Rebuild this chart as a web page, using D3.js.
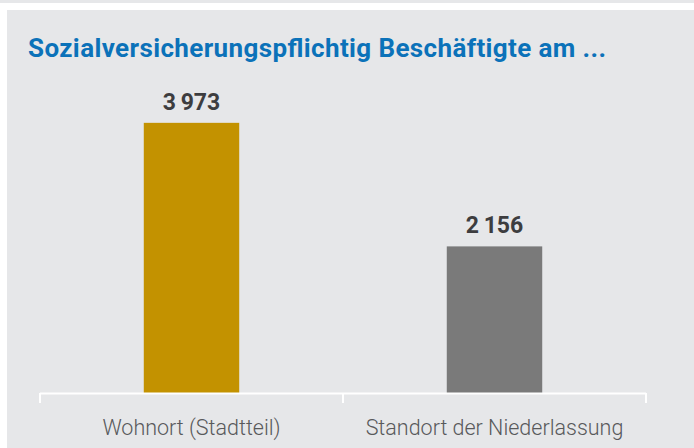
<!DOCTYPE html>
<html>
<head>
<meta charset="utf-8">
<style>
  body { margin: 0; background: #ffffff; }
  text { font-family: Roboto, "Noto Sans", sans-serif; }
  .title { font-weight: bold; fill: #0b72b9; }
  .value { font-weight: bold; fill: #3d3d3f; }
  .cat { fill: #58595b; font-weight: 300; }
</style>
</head>
<body>
<script src="https://d3js.org/d3.v7.min.js"></script>
<script>
var categories = ["Wohnort (Stadtteil)", "Standort der Niederlassung"];
var values = [3973, 2156];
var barColors = ["#c39200", "#7a7a7a"];
var titleText = "Sozialversicherungspflichtig Beschäftigte am ...";

var W = 694, H = 448;

var svg = d3.select("body").append("svg")
    .attr("width", W)
    .attr("height", H);

// top strip + panel
svg.append("rect").attr("x", 0).attr("y", 0).attr("width", W).attr("height", 3).attr("fill", "#e6e7e9");
svg.append("rect").attr("x", 7).attr("y", 10).attr("width", W - 7).attr("height", H - 10).attr("fill", "#e6e7e9");

var x = d3.scaleBand()
    .domain(categories)
    .range([40, 646])
    .padding(0);

var y = d3.scaleLinear()
    .domain([0, 4000])
    .range([393, 121]);

var fmt = d3.formatLocale({ decimal: ",", thousands: "\u2009", grouping: [3], currency: ["", " €"] }).format(",d");

var barW = x.bandwidth() * 0.315;

svg.selectAll(".bar")
    .data(values)
    .enter().append("rect")
    .attr("class", "bar")
    .attr("x", function(d, i) { return x(categories[i]) + x.bandwidth() / 2 - barW / 2; })
    .attr("y", function(d) { return y(d); })
    .attr("width", barW)
    .attr("height", function(d) { return y(0) - y(d); })
    .attr("fill", function(d, i) { return barColors[i]; });

svg.selectAll(".value")
    .data(values)
    .enter().append("text")
    .attr("class", "value")
    .attr("x", function(d, i) { return x(categories[i]) + x.bandwidth() / 2; })
    .attr("y", function(d) { return y(d) - 13; })
    .attr("text-anchor", "middle")
    .style("font-size", "23px")
    .text(function(d) { return fmt(d); });

// axis line with ticks at band edges
var edges = [40].concat(categories.map(function(c) { return x(c) + x.bandwidth(); }));
svg.append("line")
    .attr("x1", 40).attr("x2", 646)
    .attr("y1", y(0) + 0.5).attr("y2", y(0) + 0.5)
    .attr("stroke", "#ffffff").attr("stroke-width", 2);
svg.selectAll(".edge")
    .data(edges)
    .enter().append("line")
    .attr("x1", function(d) { return d; }).attr("x2", function(d) { return d; })
    .attr("y1", y(0)).attr("y2", y(0) + 10)
    .attr("stroke", "#ffffff").attr("stroke-width", 2);

svg.selectAll(".cat")
    .data(categories)
    .enter().append("text")
    .attr("class", "cat")
    .attr("x", function(d) { return x(d) + x.bandwidth() / 2; })
    .attr("y", 435)
    .attr("text-anchor", "middle")
    .style("font-size", "21.5px")
    .text(function(d) { return d; });

svg.append("text")
    .attr("class", "title")
    .attr("x", 28)
    .attr("y", 57)
    .attr("textLength", 578)
    .attr("lengthAdjust", "spacing")
    .style("font-size", "26px")
    .text(titleText);
</script>
</body>
</html>
